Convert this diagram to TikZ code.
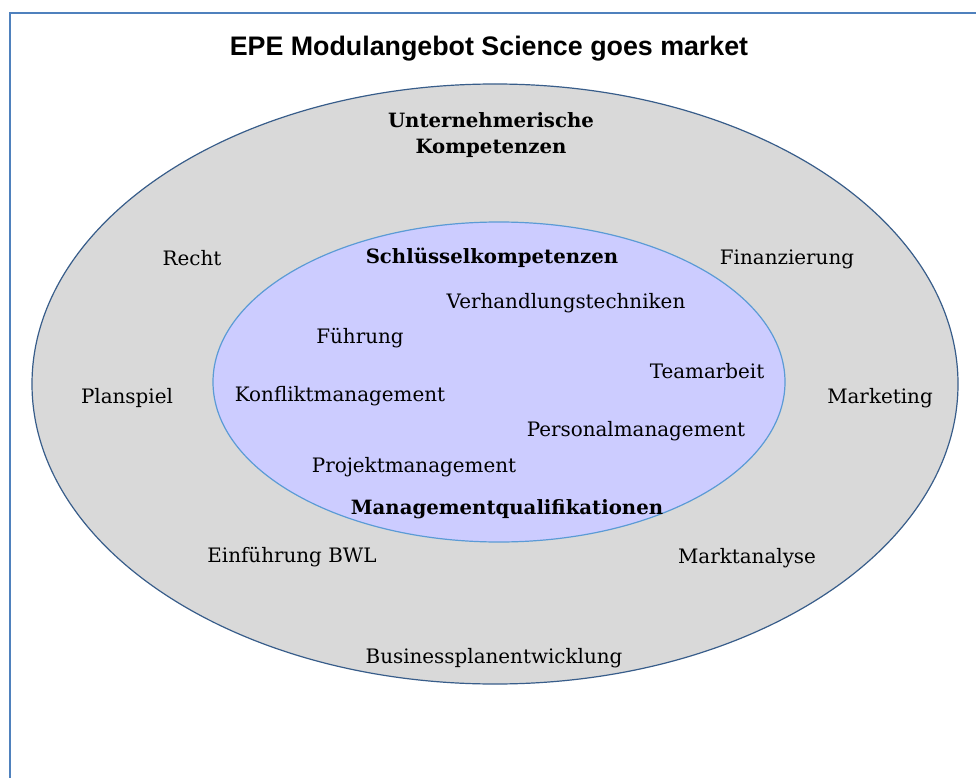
\documentclass[tikz,border=0pt]{standalone}
\usepackage{fontspec}
\setmainfont{DejaVu Serif}
\newfontfamily\titlefont{Liberation Sans}
\definecolor{framec}{HTML}{4F81BD}
\definecolor{outerfill}{HTML}{D9D9D9}
\definecolor{outerline}{HTML}{385D8A}
\definecolor{innerfill}{HTML}{CCCCFF}
\definecolor{innerline}{HTML}{5B9BD5}
\tikzset{
  lbl/.style={inner sep=0pt, yshift=-2pt, font=\fontsize{19.9}{23}\selectfont},
  blbl/.style={inner sep=0pt, yshift=-2pt, font=\fontsize{19.7}{26}\selectfont\bfseries, align=center},
}
\begin{document}
\begin{tikzpicture}[x=1pt,y=-1pt]
\useasboundingbox (0,0) rectangle (976,778);
\fill[white] (0,0) rectangle (976,778);
\draw[framec, line width=2.2pt] (10,779) -- (10,13) -- (977,13);
\draw[outerline, fill=outerfill, line width=1.2pt] (495,384) ellipse [x radius=463, y radius=300];
\draw[innerline, fill=innerfill, line width=1.2pt] (499,382) ellipse [x radius=286, y radius=160];
\node[inner sep=0pt, yshift=-2pt, font=\titlefont\fontsize{26.8}{30}\selectfont\bfseries] (title) at (489,47) {EPE Modulangebot Science goes market};
\node[blbl] (unt) at (491,133) {Unternehmerische\\Kompetenzen};
\node[lbl] (recht) at (192,256) {Recht};
\node[blbl] (schl) at (492,256) {Schlüsselkompetenzen};
\node[lbl] (fin) at (787,257) {Finanzierung};
\node[lbl] (verh) at (566,301) {Verhandlungstechniken};
\node[lbl] (fuehr) at (360,336) {Führung};
\node[lbl] (team) at (707,369) {Teamarbeit};
\node[lbl] (plan) at (127,396) {Planspiel};
\node[lbl] (konf) at (340,394) {Konfliktmanagement};
\node[lbl] (mark) at (880,396) {Marketing};
\node[lbl] (pers) at (636,429) {Personalmanagement};
\node[lbl] (proj) at (414,465) {Projektmanagement};
\node[blbl] (mq) at (507,507) {Managementqualifikationen};
\node[lbl] (bwl) at (292,555) {Einführung BWL};
\node[lbl] (mana) at (747,556) {Marktanalyse};
\node[lbl] (bus) at (494,656) {Businessplanentwicklung};
\end{tikzpicture}
\end{document}
